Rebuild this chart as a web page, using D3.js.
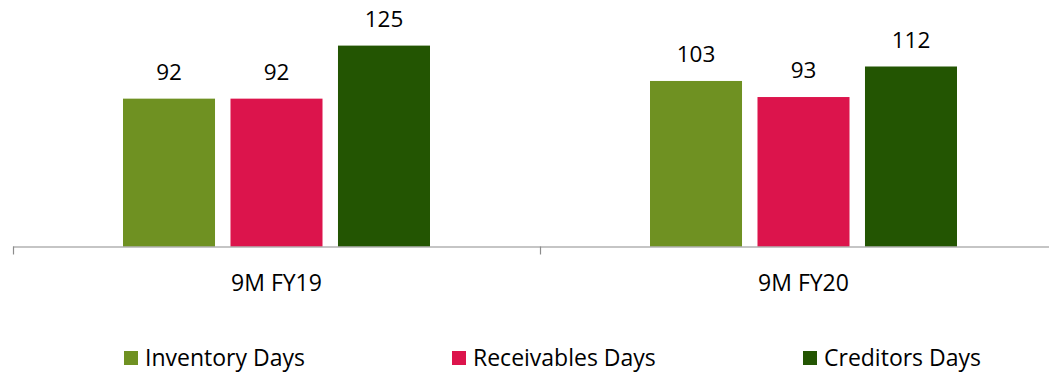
<!DOCTYPE html>
<html>
<head>
<meta charset="utf-8">
<script src="https://cdn.jsdelivr.net/npm/d3@7"></script>
<style>
html,body{margin:0;padding:0;background:#fff;overflow:hidden;}
svg{display:block;}
text{font-family:"Open Sans",sans-serif;fill:#000;}
</style>
</head>
<body>
<script>
const categories = ["9M FY19", "9M FY20"];
const seriesNames = ["Inventory Days", "Receivables Days", "Creditors Days"];
const inventoryDays = [92, 103];
const receivablesDays = [92, 93];
const creditorsDays = [125, 112];
const seriesColors = ["#6F9122", "#DC144C", "#235502"];

const seriesValues = [inventoryDays, receivablesDays, creditorsDays];
const W = 1049, H = 373;
const svg = d3.select("body").append("svg").attr("width", W).attr("height", H);

const baseY = 246.5;
const x0 = d3.scaleBand().domain(categories).range([13, 1067]).padding(0);
const groupW = 307;
const x1 = d3.scaleBand().domain(seriesNames).range([0, groupW]).paddingInner(0.144).paddingOuter(0);
const y = d3.scaleLinear().domain([0, 140]).range([baseY, 21.5]);

const rows = [];
categories.forEach((c, i) => {
  seriesNames.forEach((s, j) => rows.push({cat: c, series: s, value: seriesValues[j][i], color: seriesColors[j]}));
});

const g = svg.append("g");
g.selectAll("rect.bar").data(rows).enter().append("rect")
  .attr("class", "bar")
  .attr("x", d => x0(d.cat) + x0.bandwidth() / 2 - groupW / 2 + x1(d.series))
  .attr("y", d => y(d.value))
  .attr("width", x1.bandwidth())
  .attr("height", d => baseY - y(d.value))
  .attr("fill", d => d.color);

g.selectAll("text.val").data(rows).enter().append("text")
  .attr("class", "val")
  .attr("x", d => x0(d.cat) + x0.bandwidth() / 2 - groupW / 2 + x1(d.series) + x1.bandwidth() / 2)
  .attr("y", d => y(d.value) - 19)
  .attr("text-anchor", "middle")
  .style("font-size", "22.5px")
  .text(d => d.value);

// axis
const axis = d3.axisBottom(x0).tickSize(0).tickFormat("");
const axG = svg.append("g").attr("transform", `translate(0,${baseY})`).call(axis);
axG.select(".domain").attr("stroke", "#8c8c8c").attr("stroke-width", 1.2);
const tickXs = [x0.range()[0]].concat(categories.map(c => x0(c) + x0.bandwidth()));
axG.selectAll("line.sep").data(tickXs).enter().append("line")
  .attr("class", "sep")
  .attr("x1", d => d + 0.5).attr("x2", d => d + 0.5)
  .attr("y1", 0).attr("y2", 8)
  .attr("stroke", "#8c8c8c").attr("stroke-width", 1.2);
axG.select(".domain").attr("d", `M${x0.range()[0]},0.5H${x0.range()[1]}`);

svg.selectAll("text.cat").data(categories).enter().append("text")
  .attr("class", "cat")
  .attr("x", d => x0(d) + x0.bandwidth() / 2)
  .attr("y", 291)
  .attr("text-anchor", "middle")
  .style("font-size", "23px")
  .text(d => d);

// legend
const legendXs = [124, 452, 803];
const leg = svg.selectAll("g.leg").data(seriesNames).enter().append("g")
  .attr("class", "leg")
  .attr("transform", (d, i) => `translate(${legendXs[i]},0)`);
leg.append("rect").attr("x", 0).attr("y", 351).attr("width", 14).attr("height", 14)
  .attr("fill", (d, i) => seriesColors[i]);
leg.append("text").attr("x", 21).attr("y", 366)
  .style("font-size", "23px")
  .text(d => d);
</script>
</body>
</html>
